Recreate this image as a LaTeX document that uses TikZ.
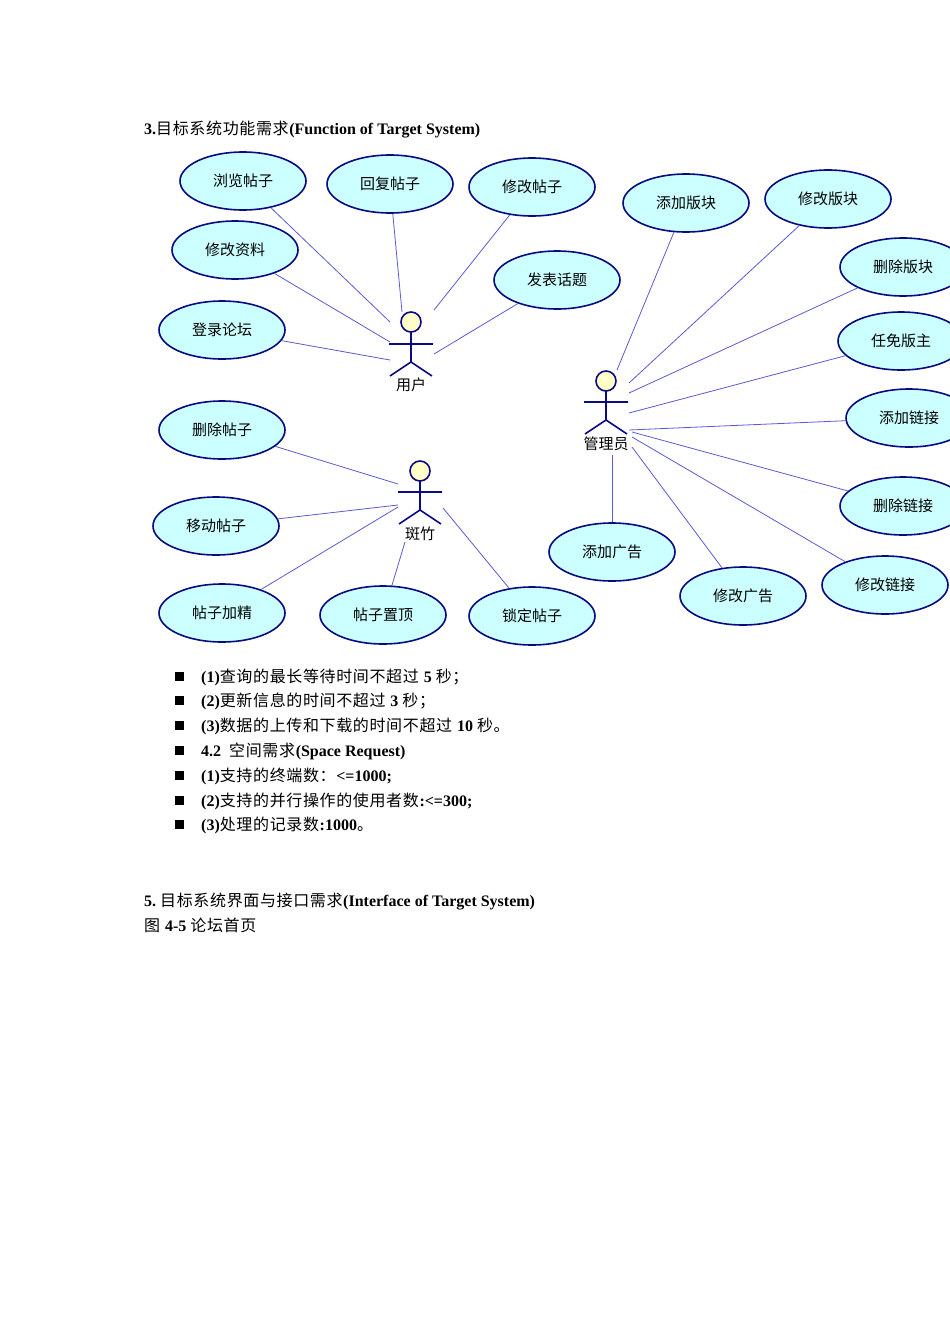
\documentclass[tikz,border=0pt]{standalone}
\usepackage{fontspec}
\setmainfont{Liberation Serif}
\newfontfamily\cjk[LetterSpace=4]{Noto Sans CJK SC}
\newfontfamily\cjkuc{Noto Sans CJK SC}
\begin{document}
\begin{tikzpicture}[x=1pt,y=-1pt,
 uc/.style={ellipse,draw=navy,line width=1.6pt,fill=ucfill,minimum width=126pt,minimum height=58pt,inner sep=0pt,font=\cjkuc\fontsize{15}{15}\selectfont},
 conn/.style={draw=linkblue,line width=0.8pt},
 act/.style={draw=navy,line width=1.6pt},
 tx/.style={anchor=base west,inner sep=0pt,font=\fontsize{16}{16}\selectfont}]
\usetikzlibrary{shapes.geometric}
\definecolor{navy}{RGB}{10,10,130}
\definecolor{ucfill}{RGB}{204,255,255}
\definecolor{linkblue}{RGB}{90,90,210}
\definecolor{headfill}{RGB}{255,255,200}
\useasboundingbox (0,0) rectangle (950,1344);
\clip (0,0) rectangle (950,1344);
% title
\node[tx] (t1) at (144,134) {\textbf{3.}{\cjk 目标系统功能需求}\textbf{(Function of Target System)}};
% use cases
\node[uc] (e1) at (243,181) {浏览帖子};
\node[uc] (e2) at (390,184) {回复帖子};
\node[uc] (e3) at (532,187) {修改帖子};
\node[uc] (e4) at (235,250) {修改资料};
\node[uc] (e5) at (557,280) {发表话题};
\node[uc] (e6) at (222,330) {登录论坛};
\node[uc] (a1) at (686,203) {添加版块};
\node[uc] (a2) at (828,199) {修改版块};
\node[uc] (a3) at (903,267) {删除版块};
\node[uc] (a4) at (901,341) {任免版主};
\node[uc] (a5) at (909,418) {添加链接};
\node[uc] (a6) at (903,506) {删除链接};
\node[uc] (a7) at (885,585) {修改链接};
\node[uc] (a8) at (743,596) {修改广告};
\node[uc] (a9) at (612,552) {添加广告};
\node[uc] (b1) at (222,430) {删除帖子};
\node[uc] (b2) at (216,526) {移动帖子};
\node[uc] (b3) at (222,613) {帖子加精};
\node[uc] (b4) at (383,615) {帖子置顶};
\node[uc] (b5) at (532,616) {锁定帖子};
% actors
\draw[act,fill=headfill] (411,322) circle (10);
\draw[act] (411,332) -- (411,362) (389,344) -- (433,344) (390,376) -- (411,362) -- (432,376);
\node[font=\cjkuc\fontsize{15}{15}\selectfont,inner sep=0pt] (lu) at (411,385) {用户};
\draw[act,fill=headfill] (606,381) circle (10);
\draw[act] (606,391) -- (606,420) (584,402) -- (628,402) (585,434) -- (606,420) -- (627,434);
\node[font=\cjkuc\fontsize{15}{15}\selectfont,inner sep=0pt] (la) at (606,444) {管理员};
\draw[act,fill=headfill] (420,471) circle (10);
\draw[act] (420,481) -- (420,510) (398,492) -- (442,492) (399,524) -- (420,510) -- (441,524);
\node[font=\cjkuc\fontsize{15}{15}\selectfont,inner sep=0pt] (lb) at (420,534) {斑竹};
% user connectors
\coordinate (u1) at (390,322); \coordinate (u2) at (402,312); \coordinate (u3) at (434,310);
\coordinate (u4) at (390,342); \coordinate (u5) at (390,360); \coordinate (u6) at (434,354);
\draw[conn] (e1) -- (u1); \draw[conn] (e2) -- (u2); \draw[conn] (e3) -- (u3);
\draw[conn] (e4) -- (u4); \draw[conn] (e6) -- (u5); \draw[conn] (e5) -- (u6);
% admin connectors
\coordinate (m1) at (617,370); \coordinate (m2) at (629,383); \coordinate (m3) at (629,393);
\coordinate (m4) at (629,413); \coordinate (m5) at (629,430); \coordinate (m6) at (632,432);
\coordinate (m7) at (632,437); \coordinate (m8) at (632,447); \coordinate (m9) at (612,455);
\draw[conn] (a1) -- (m1); \draw[conn] (a2) -- (m2); \draw[conn] (a3) -- (m3);
\draw[conn] (a4) -- (m4); \draw[conn] (a5) -- (m5); \draw[conn] (a6) -- (m6);
\draw[conn] (a7) -- (m7); \draw[conn] (a8) -- (m8); \draw[conn] (a9) -- (m9);
% moderator connectors
\coordinate (s1) at (398,484); \coordinate (s2) at (398,505); \coordinate (s3) at (398,507);
\coordinate (s4) at (405,542); \coordinate (s5) at (443,508);
\draw[conn] (b1) -- (s1); \draw[conn] (b2) -- (s2); \draw[conn] (b3) -- (s3);
\draw[conn] (b4) -- (s4); \draw[conn] (b5) -- (s5);
% bullets
\foreach \y in {677,701,726,751,776,801,825} \fill (175,\y-5) rectangle +(9,9);
\node[tx] (l1) at (201,682) {\textbf{(1)}{\cjk 查询的最长等待时间不超过 }\textbf{5 }{\cjk 秒；}};
\node[tx] (l2) at (201,706) {\textbf{(2)}{\cjk 更新信息的时间不超过 }\textbf{3 }{\cjk 秒；}};
\node[tx] (l3) at (201,731) {\textbf{(3)}{\cjk 数据的上传和下载的时间不超过 }\textbf{10 }{\cjk 秒。}};
\node[tx] (l4) at (201,756) {\textbf{4.2}\ \ {\cjk 空间需求}\textbf{(Space Request)}};
\node[tx] (l5) at (201,781) {\textbf{(1)}{\cjk 支持的终端数：}\textbf{<=1000;}};
\node[tx] (l6) at (201,806) {\textbf{(2)}{\cjk 支持的并行操作的使用者数}\textbf{:<=300;}};
\node[tx] (l7) at (201,830) {\textbf{(3)}{\cjk 处理的记录数}\textbf{:1000}{\cjk 。}};
\node[tx] (l8) at (144,906) {\textbf{5.}\ {\cjk 目标系统界面与接口需求}\textbf{(Interface of Target System)}};
\node[tx] (l9) at (144,931) {{\cjk 图 }\textbf{4-5}\ {\cjk 论坛首页}};
\end{tikzpicture}
\end{document}
